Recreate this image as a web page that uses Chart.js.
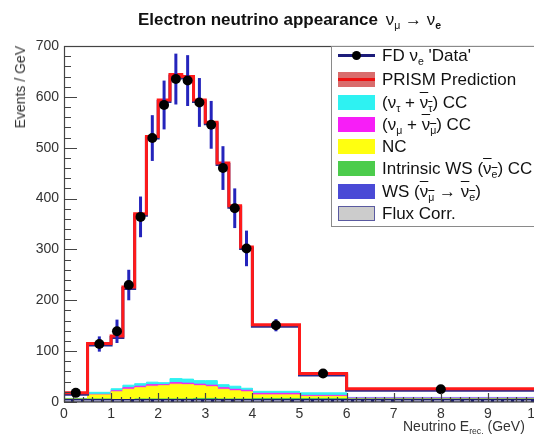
<!DOCTYPE html>
<html>
<head>
<meta charset="utf-8">
<script src="https://cdn.jsdelivr.net/npm/chart.js@4.4.1/dist/chart.umd.min.js"></script>
<style>
  body { margin: 0; overflow: hidden; background: #fff; font-family: "Liberation Sans", Arial, sans-serif; }
  #wrap { position: relative; width: 534px; height: 434px; overflow: hidden; }
  #chart { position: absolute; left: 0; top: 0; }
  sub { font-size: 62%; vertical-align: -0.35em; line-height: 0; }
  .bar { text-decoration: overline; }
  .title { position: absolute; left: 138px; top: 10px; font-size: 17px; font-weight: bold; color: #111; white-space: nowrap; }
  .title .sym { font-weight: normal; margin-left: 3px; }
  .ytitle { position: absolute; left: 12px; top: 46px; font-size: 14px; color: #333; writing-mode: vertical-rl; transform: rotate(180deg); white-space: nowrap; }
  .xtitle { position: absolute; left: 403px; top: 418px; font-size: 14px; color: #333; white-space: nowrap; }
  .legend { position: absolute; left: 331px; top: 46px; width: 230px; height: 179px; background: #fff; border: 1.5px solid #8a8a8a; }
  .row { position: absolute; left: 0; height: 22px; line-height: 22px; padding-left: 50px; font-size: 17px; color: #111; white-space: nowrap; }
  .sw { position: absolute; left: 6px; top: 3px; width: 37px; height: 15px; box-sizing: border-box; }
  .sw.data { background: linear-gradient(#fff 6px, #1c1c7a 6px, #1c1c7a 9px, #fff 9px); }
  .sw.data::after { content: ""; position: absolute; left: 14px; top: 3px; width: 9px; height: 9px; border-radius: 50%; background: #000; }
  .sw.pred { background: linear-gradient(#d96c6c 6px, #ee1111 6px, #ee1111 9px, #d96c6c 9px); }
</style>
</head>
<body>
<div id="wrap">
  <canvas id="chart" width="540" height="434"></canvas>
  <div class="title">Electron neutrino appearance <span class="sym">ν<sub>μ</sub> → ν<sub><b>e</b></sub></span></div>
  <div class="ytitle">Events / GeV</div>
  <div class="xtitle">Neutrino E<sub>rec.</sub> (GeV)</div>
  <div class="legend">
    <div class="row" style="top:-2px"><span class="sw data"></span>FD ν<sub>e</sub> 'Data'</div>
    <div class="row" style="top:22px"><span class="sw pred"></span>PRISM Prediction</div>
    <div class="row" style="top:45px"><span class="sw" style="background:#2ef2f2"></span>(ν<sub>τ</sub> + <span class="bar">ν<sub>τ</sub></span>) CC</div>
    <div class="row" style="top:67px"><span class="sw" style="background:#f71ef7"></span>(ν<sub>μ</sub> + <span class="bar">ν<sub>μ</sub></span>) CC</div>
    <div class="row" style="top:89px"><span class="sw" style="background:#ffff10"></span>NC</div>
    <div class="row" style="top:111px"><span class="sw" style="background:#4ccc4c"></span>Intrinsic WS (<span class="bar">ν<sub>e</sub></span>) CC</div>
    <div class="row" style="top:134px"><span class="sw" style="background:#4a4ad6"></span>WS (<span class="bar">ν<sub>μ</sub></span> → <span class="bar">ν<sub>e</sub></span>)</div>
    <div class="row" style="top:156px"><span class="sw" style="background:#cccccc;border:1.5px solid #5a5aa0"></span>Flux Corr.</div>
  </div>
</div>
<script>
// bins in reconstructed energy (GeV)
const binEdges = [0, 0.5, 1, 1.25, 1.5, 1.75, 2, 2.25, 2.5, 2.75, 3, 3.25, 3.5, 3.75, 4, 5, 6, 10];

// events / GeV per bin
const prismPred = [18, 115, 130, 226, 370, 522, 594, 644, 640, 594, 550, 470, 386, 305, 152, 56, 26];
const wsNumuBar = [1, 1, 1, 1, 2, 2, 2, 2, 2, 3, 3, 2, 2, 2, 2, 2, 1];
const intrinsicWS = [5, 5, 4, 4, 4, 4, 4, 4, 4, 4, 4, 4, 4, 4, 5, 5, 5];
const ncBkg = [0, 8, 15, 20, 22, 25, 26, 29, 28, 25, 23, 19, 16, 14, 7, 4, 0];
const numuCC = [0, 1, 2, 3, 3, 3, 2, 3, 3, 3, 3, 3, 3, 3, 3, 2, 2];
const nutauCC = [1, 4, 4, 5, 5, 5, 4, 8, 8, 7, 9, 6, 6, 4, 4, 5, 1];
const fluxCorr = [2, 2, 2, 2, 2, 2, 2, 2, 2, 2, 2, 2, 2, 2, 2, 2, 2];

// FD "data" points
const dataE = [0.25, 0.75, 1.125, 1.375, 1.625, 1.875, 2.125, 2.375, 2.625, 2.875, 3.125, 3.375, 3.625, 3.875, 4.5, 5.5, 8];
const dataN = [18, 114, 139, 230, 364, 519, 584, 635, 632, 589, 545, 460, 381, 302, 151, 56, 25];
const dataErr = [6, 15, 23, 30, 40, 45, 48, 50, 50, 48, 47, 43, 39, 35, 12, 7, 3];

const xTickVals = [0, 1, 2, 3, 4, 5, 6, 7, 8, 9, 10];
const yTickVals = [0, 100, 200, 300, 400, 500, 600, 700];

function steps(vals) {
  const pts = [];
  vals.forEach((v, i) => {
    pts.push({ x: binEdges[i], y: v });
    pts.push({ x: binEdges[i + 1], y: v });
  });
  return pts;
}

function stackUp(...layers) {
  return layers[0].map((_, i) => layers.reduce((s, l) => s + l[i], 0));
}

function area(vals, color) {
  return { data: steps(vals), backgroundColor: color, borderColor: color, borderWidth: 1, pointRadius: 0, fill: "origin" };
}

// error bars go under the markers of dataset 0
const errorBars = {
  id: "errorBars",
  beforeDatasetDraw(chart, args) {
    if (args.index !== 0) return;
    const { ctx, scales: { x, y } } = chart;
    ctx.save();
    ctx.strokeStyle = "#2424bc";
    ctx.lineWidth = 3;
    dataE.forEach((e, i) => {
      const px = x.getPixelForValue(e);
      ctx.beginPath();
      ctx.moveTo(px, y.getPixelForValue(dataN[i] - dataErr[i]));
      ctx.lineTo(px, y.getPixelForValue(dataN[i] + dataErr[i]));
      ctx.stroke();
    });
    ctx.restore();
  }
};

// dark edge under the red prediction line
const predShadow = {
  id: "predShadow",
  beforeDatasetDraw(chart, args) {
    if (args.index !== 1) return;
    chart.ctx.save();
    chart.ctx.shadowColor = "#2a2a8c";
    chart.ctx.shadowOffsetY = 1.5;
  },
  afterDatasetDraw(chart, args) {
    if (args.index === 1) chart.ctx.restore();
  }
};

// ROOT style frame with ticks inside
const rootFrame = {
  id: "rootFrame",
  afterDatasetsDraw(chart) {
    const { ctx, chartArea: a, scales: { x, y } } = chart;
    ctx.save();
    ctx.strokeStyle = "#444";
    ctx.lineWidth = 1.2;
    ctx.strokeRect(a.left + 0.5, a.top + 0.5, a.right - a.left, a.bottom - a.top - 0.5);
    ctx.beginPath();
    for (let v = 0; v <= 700; v += 20) {
      const py = Math.round(y.getPixelForValue(v)) + 0.5;
      ctx.moveTo(a.left, py);
      ctx.lineTo(a.left + (v % 100 === 0 ? 13 : 7), py);
    }
    for (let e = 0; e <= 10.001; e += 0.2) {
      const px = Math.round(x.getPixelForValue(e)) + 0.5;
      const major = Math.abs(e - Math.round(e)) < 0.01;
      ctx.moveTo(px, a.bottom);
      ctx.lineTo(px, a.bottom - (major ? 9 : 5));
    }
    ctx.stroke();
    ctx.restore();
  }
};

const ctx = document.getElementById("chart").getContext("2d");
Chart.defaults.font.family = "'Liberation Sans', Arial, sans-serif";

new Chart(ctx, {
  type: "line",
  data: {
    datasets: [
      {
        data: dataE.map((e, i) => ({ x: e, y: dataN[i] })),
        showLine: false,
        pointRadius: 5,
        pointBackgroundColor: "#000",
        pointBorderColor: "#000",
        borderWidth: 0
      },
      { data: steps(prismPred), borderColor: "#ff1a1a", borderWidth: 3, pointRadius: 0, fill: false },
      { data: steps(fluxCorr), borderColor: "#ffffff", borderWidth: 1.2, borderDash: [7, 3], pointRadius: 0, fill: false },
      { data: steps(fluxCorr), borderColor: "#1c1c6e", borderWidth: 4, pointRadius: 0, fill: false },
      area(wsNumuBar, "#4a4ad6"),
      area(stackUp(wsNumuBar, intrinsicWS), "#4ccc4c"),
      area(stackUp(wsNumuBar, intrinsicWS, ncBkg), "#ffff10"),
      area(stackUp(wsNumuBar, intrinsicWS, ncBkg, numuCC), "#f71ef7"),
      area(stackUp(wsNumuBar, intrinsicWS, ncBkg, numuCC, nutauCC), "#2ef2f2")
    ]
  },
  options: {
    responsive: false,
    animation: false,
    layout: { padding: { top: 46, right: 5, left: 0, bottom: 0 } },
    elements: { line: { tension: 0 } },
    plugins: { legend: { display: false }, tooltip: { enabled: false } },
    scales: {
      x: {
        type: "linear",
        min: 0,
        max: 10,
        grid: { display: false, drawTicks: false },
        border: { display: false },
        ticks: { color: "#333", font: { size: 14 }, padding: 4, maxRotation: 0, autoSkip: false },
        afterBuildTicks: s => { s.ticks = xTickVals.map(v => ({ value: v })); },
        afterFit: s => { s.height = 32; s.paddingLeft = 0; s.paddingRight = 0; }
      },
      y: {
        min: 0,
        max: 700,
        grid: { display: false, drawTicks: false },
        border: { display: false },
        ticks: { color: "#333", font: { size: 14 }, padding: 5 },
        afterBuildTicks: s => { s.ticks = yTickVals.map(v => ({ value: v })); },
        afterFit: s => { s.width = 64; s.paddingTop = 0; s.paddingBottom = 0; }
      }
    }
  },
  plugins: [errorBars, predShadow, rootFrame]
});
</script>
</body>
</html>
